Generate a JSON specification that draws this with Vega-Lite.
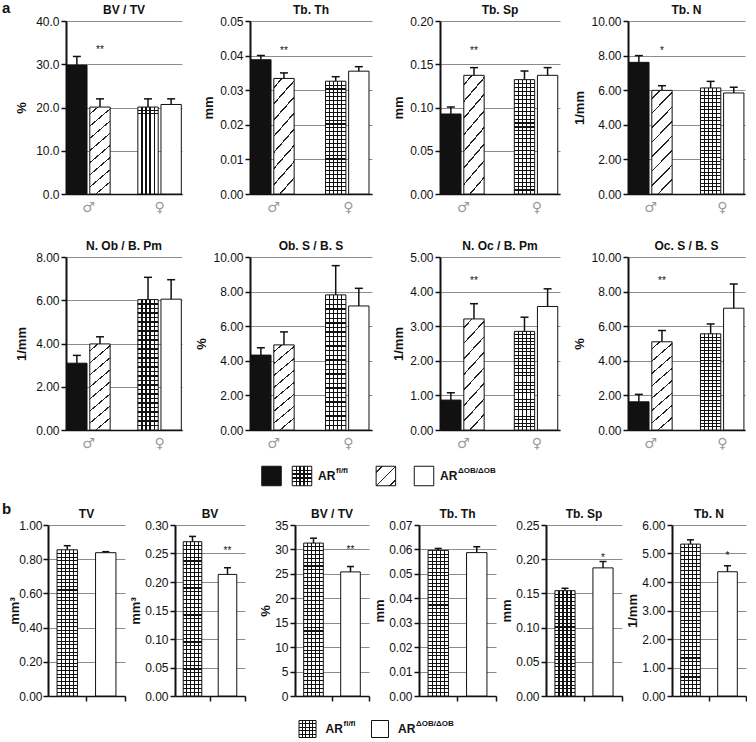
{
"$schema":"https://vega.github.io/schema/vega-lite/v6.json",
"padding":{"left":2,"top":1,"right":0,"bottom":0},
"columns":1,"spacing":14,
"config":{
 "font":"Liberation Sans",
 "view":{"stroke":null},
 "title":{"fontSize":12,"fontWeight":"bold","offset":-2,"color":"#111"},
 "axisX":{"domainColor":"#111","domainWidth":1.5,"ticks":false,"labelAngle":0,"labelColor":"#9a9a9a","labelFont":"DejaVu Sans","labelFontSize":14,"labelPadding":6,"grid":false},
 "axisY":{"grid":true,"gridColor":"#8c8c8c","gridWidth":1,"domainColor":"#111","domainWidth":2,"tickColor":"#111","tickWidth":1.5,"tickSize":5,"labelFontSize":12,"labelColor":"#111","labelPadding":2,"titleFontSize":13,"titleFontWeight":"bold","titleColor":"#111","titlePadding":4},
 "style":{
  "hatch":{"color":{"gradient":"linear","x1":0,"y1":0,"x2":0.2308,"y2":1.1538,"stops":[
   {"offset":0,"color":"white"},
   {"offset":0.06,"color":"white"},{"offset":0.06,"color":"#222"},{"offset":0.0734,"color":"#222"},{"offset":0.0734,"color":"white"},
   {"offset":0.1766,"color":"white"},{"offset":0.1766,"color":"#222"},{"offset":0.19,"color":"#222"},{"offset":0.19,"color":"white"},
   {"offset":0.2933,"color":"white"},{"offset":0.2933,"color":"#222"},{"offset":0.3067,"color":"#222"},{"offset":0.3067,"color":"white"},
   {"offset":0.41,"color":"white"},{"offset":0.41,"color":"#222"},{"offset":0.4234,"color":"#222"},{"offset":0.4234,"color":"white"},
   {"offset":0.5266,"color":"white"},{"offset":0.5266,"color":"#222"},{"offset":0.54,"color":"#222"},{"offset":0.54,"color":"white"},
   {"offset":0.6433,"color":"white"},{"offset":0.6433,"color":"#222"},{"offset":0.6567,"color":"#222"},{"offset":0.6567,"color":"white"},
   {"offset":0.76,"color":"white"},{"offset":0.76,"color":"#222"},{"offset":0.7734,"color":"#222"},{"offset":0.7734,"color":"white"},
   {"offset":0.8766,"color":"white"},{"offset":0.8766,"color":"#222"},{"offset":0.89,"color":"#222"},{"offset":0.89,"color":"white"},
   {"offset":1,"color":"white"}]}},
  "hatchSq":{"color":{"gradient":"linear","x1":0,"y1":0,"x2":1,"y2":1,"stops":[
   {"offset":0,"color":"white"},
   {"offset":0.13,"color":"white"},{"offset":0.13,"color":"#222"},{"offset":0.17,"color":"#222"},{"offset":0.17,"color":"white"},
   {"offset":0.48,"color":"white"},{"offset":0.48,"color":"#222"},{"offset":0.52,"color":"#222"},{"offset":0.52,"color":"white"},
   {"offset":0.83,"color":"white"},{"offset":0.83,"color":"#222"},{"offset":0.87,"color":"#222"},{"offset":0.87,"color":"white"},
   {"offset":1,"color":"white"}]}},
  "gridV":{"color":{"gradient":"linear","x1":0,"y1":0,"x2":1,"y2":0,"stops":[
   {"offset":0,"color":"white"},
   {"offset":0.17,"color":"white"},{"offset":0.17,"color":"#111"},{"offset":0.23,"color":"#111"},{"offset":0.23,"color":"white"},
   {"offset":0.37,"color":"white"},{"offset":0.37,"color":"#111"},{"offset":0.43,"color":"#111"},{"offset":0.43,"color":"white"},
   {"offset":0.57,"color":"white"},{"offset":0.57,"color":"#111"},{"offset":0.63,"color":"#111"},{"offset":0.63,"color":"white"},
   {"offset":0.77,"color":"white"},{"offset":0.77,"color":"#111"},{"offset":0.83,"color":"#111"},{"offset":0.83,"color":"white"},
   {"offset":1,"color":"white"}]}},
  "gridHsq":{"color":{"gradient":"linear","x1":0,"y1":0,"x2":0,"y2":1,"stops":[
   {"offset":0,"color":"transparent"},
   {"offset":0.17,"color":"transparent"},{"offset":0.17,"color":"#111"},{"offset":0.23,"color":"#111"},{"offset":0.23,"color":"transparent"},
   {"offset":0.37,"color":"transparent"},{"offset":0.37,"color":"#111"},{"offset":0.43,"color":"#111"},{"offset":0.43,"color":"transparent"},
   {"offset":0.57,"color":"transparent"},{"offset":0.57,"color":"#111"},{"offset":0.63,"color":"#111"},{"offset":0.63,"color":"transparent"},
   {"offset":0.77,"color":"transparent"},{"offset":0.77,"color":"#111"},{"offset":0.83,"color":"#111"},{"offset":0.83,"color":"transparent"},
   {"offset":1,"color":"transparent"}]}},
  "gridHa":{"color":{"gradient":"linear","x1":0,"y1":0,"x2":0,"y2":1,"stops":[
   {"offset":0,"color":"transparent"},
   {"offset":0.0295,"color":"transparent"},{"offset":0.0295,"color":"#111"},{"offset":0.0395,"color":"#111"},{"offset":0.0395,"color":"transparent"},
   {"offset":0.064,"color":"transparent"},{"offset":0.064,"color":"#111"},{"offset":0.074,"color":"#111"},{"offset":0.074,"color":"transparent"},
   {"offset":0.0984,"color":"transparent"},{"offset":0.0984,"color":"#111"},{"offset":0.1084,"color":"#111"},{"offset":0.1084,"color":"transparent"},
   {"offset":0.1329,"color":"transparent"},{"offset":0.1329,"color":"#111"},{"offset":0.1429,"color":"#111"},{"offset":0.1429,"color":"transparent"},
   {"offset":0.1674,"color":"transparent"},{"offset":0.1674,"color":"#111"},{"offset":0.1774,"color":"#111"},{"offset":0.1774,"color":"transparent"},
   {"offset":0.2019,"color":"transparent"},{"offset":0.2019,"color":"#111"},{"offset":0.2119,"color":"#111"},{"offset":0.2119,"color":"transparent"},
   {"offset":0.2364,"color":"transparent"},{"offset":0.2364,"color":"#111"},{"offset":0.2464,"color":"#111"},{"offset":0.2464,"color":"transparent"},
   {"offset":0.2709,"color":"transparent"},{"offset":0.2709,"color":"#111"},{"offset":0.2809,"color":"#111"},{"offset":0.2809,"color":"transparent"},
   {"offset":0.3053,"color":"transparent"},{"offset":0.3053,"color":"#111"},{"offset":0.3153,"color":"#111"},{"offset":0.3153,"color":"transparent"},
   {"offset":0.3398,"color":"transparent"},{"offset":0.3398,"color":"#111"},{"offset":0.3498,"color":"#111"},{"offset":0.3498,"color":"transparent"},
   {"offset":0.3743,"color":"transparent"},{"offset":0.3743,"color":"#111"},{"offset":0.3843,"color":"#111"},{"offset":0.3843,"color":"transparent"},
   {"offset":0.4088,"color":"transparent"},{"offset":0.4088,"color":"#111"},{"offset":0.4188,"color":"#111"},{"offset":0.4188,"color":"transparent"},
   {"offset":0.4433,"color":"transparent"},{"offset":0.4433,"color":"#111"},{"offset":0.4533,"color":"#111"},{"offset":0.4533,"color":"transparent"},
   {"offset":0.4778,"color":"transparent"},{"offset":0.4778,"color":"#111"},{"offset":0.4878,"color":"#111"},{"offset":0.4878,"color":"transparent"},
   {"offset":0.5122,"color":"transparent"},{"offset":0.5122,"color":"#111"},{"offset":0.5222,"color":"#111"},{"offset":0.5222,"color":"transparent"},
   {"offset":0.5467,"color":"transparent"},{"offset":0.5467,"color":"#111"},{"offset":0.5567,"color":"#111"},{"offset":0.5567,"color":"transparent"},
   {"offset":0.5812,"color":"transparent"},{"offset":0.5812,"color":"#111"},{"offset":0.5912,"color":"#111"},{"offset":0.5912,"color":"transparent"},
   {"offset":0.6157,"color":"transparent"},{"offset":0.6157,"color":"#111"},{"offset":0.6257,"color":"#111"},{"offset":0.6257,"color":"transparent"},
   {"offset":0.6502,"color":"transparent"},{"offset":0.6502,"color":"#111"},{"offset":0.6602,"color":"#111"},{"offset":0.6602,"color":"transparent"},
   {"offset":0.6847,"color":"transparent"},{"offset":0.6847,"color":"#111"},{"offset":0.6947,"color":"#111"},{"offset":0.6947,"color":"transparent"},
   {"offset":0.7191,"color":"transparent"},{"offset":0.7191,"color":"#111"},{"offset":0.7291,"color":"#111"},{"offset":0.7291,"color":"transparent"},
   {"offset":0.7536,"color":"transparent"},{"offset":0.7536,"color":"#111"},{"offset":0.7636,"color":"#111"},{"offset":0.7636,"color":"transparent"},
   {"offset":0.7881,"color":"transparent"},{"offset":0.7881,"color":"#111"},{"offset":0.7981,"color":"#111"},{"offset":0.7981,"color":"transparent"},
   {"offset":0.8226,"color":"transparent"},{"offset":0.8226,"color":"#111"},{"offset":0.8326,"color":"#111"},{"offset":0.8326,"color":"transparent"},
   {"offset":0.8571,"color":"transparent"},{"offset":0.8571,"color":"#111"},{"offset":0.8671,"color":"#111"},{"offset":0.8671,"color":"transparent"},
   {"offset":0.8916,"color":"transparent"},{"offset":0.8916,"color":"#111"},{"offset":0.9016,"color":"#111"},{"offset":0.9016,"color":"transparent"},
   {"offset":0.926,"color":"transparent"},{"offset":0.926,"color":"#111"},{"offset":0.936,"color":"#111"},{"offset":0.936,"color":"transparent"},
   {"offset":0.9605,"color":"transparent"},{"offset":0.9605,"color":"#111"},{"offset":0.9705,"color":"#111"},{"offset":0.9705,"color":"transparent"},
   {"offset":1,"color":"transparent"}]}},
  "gridHb":{"color":{"gradient":"linear","x1":0,"y1":0,"x2":0,"y2":1,"stops":[
   {"offset":0,"color":"transparent"},
   {"offset":0.0215,"color":"transparent"},{"offset":0.0215,"color":"#111"},{"offset":0.0285,"color":"#111"},{"offset":0.0285,"color":"transparent"},
   {"offset":0.0465,"color":"transparent"},{"offset":0.0465,"color":"#111"},{"offset":0.0535,"color":"#111"},{"offset":0.0535,"color":"transparent"},
   {"offset":0.0715,"color":"transparent"},{"offset":0.0715,"color":"#111"},{"offset":0.0785,"color":"#111"},{"offset":0.0785,"color":"transparent"},
   {"offset":0.0965,"color":"transparent"},{"offset":0.0965,"color":"#111"},{"offset":0.1035,"color":"#111"},{"offset":0.1035,"color":"transparent"},
   {"offset":0.1215,"color":"transparent"},{"offset":0.1215,"color":"#111"},{"offset":0.1285,"color":"#111"},{"offset":0.1285,"color":"transparent"},
   {"offset":0.1465,"color":"transparent"},{"offset":0.1465,"color":"#111"},{"offset":0.1535,"color":"#111"},{"offset":0.1535,"color":"transparent"},
   {"offset":0.1715,"color":"transparent"},{"offset":0.1715,"color":"#111"},{"offset":0.1785,"color":"#111"},{"offset":0.1785,"color":"transparent"},
   {"offset":0.1965,"color":"transparent"},{"offset":0.1965,"color":"#111"},{"offset":0.2035,"color":"#111"},{"offset":0.2035,"color":"transparent"},
   {"offset":0.2215,"color":"transparent"},{"offset":0.2215,"color":"#111"},{"offset":0.2285,"color":"#111"},{"offset":0.2285,"color":"transparent"},
   {"offset":0.2465,"color":"transparent"},{"offset":0.2465,"color":"#111"},{"offset":0.2535,"color":"#111"},{"offset":0.2535,"color":"transparent"},
   {"offset":0.2715,"color":"transparent"},{"offset":0.2715,"color":"#111"},{"offset":0.2785,"color":"#111"},{"offset":0.2785,"color":"transparent"},
   {"offset":0.2965,"color":"transparent"},{"offset":0.2965,"color":"#111"},{"offset":0.3035,"color":"#111"},{"offset":0.3035,"color":"transparent"},
   {"offset":0.3215,"color":"transparent"},{"offset":0.3215,"color":"#111"},{"offset":0.3285,"color":"#111"},{"offset":0.3285,"color":"transparent"},
   {"offset":0.3465,"color":"transparent"},{"offset":0.3465,"color":"#111"},{"offset":0.3535,"color":"#111"},{"offset":0.3535,"color":"transparent"},
   {"offset":0.3715,"color":"transparent"},{"offset":0.3715,"color":"#111"},{"offset":0.3785,"color":"#111"},{"offset":0.3785,"color":"transparent"},
   {"offset":0.3965,"color":"transparent"},{"offset":0.3965,"color":"#111"},{"offset":0.4035,"color":"#111"},{"offset":0.4035,"color":"transparent"},
   {"offset":0.4215,"color":"transparent"},{"offset":0.4215,"color":"#111"},{"offset":0.4285,"color":"#111"},{"offset":0.4285,"color":"transparent"},
   {"offset":0.4465,"color":"transparent"},{"offset":0.4465,"color":"#111"},{"offset":0.4535,"color":"#111"},{"offset":0.4535,"color":"transparent"},
   {"offset":0.4715,"color":"transparent"},{"offset":0.4715,"color":"#111"},{"offset":0.4785,"color":"#111"},{"offset":0.4785,"color":"transparent"},
   {"offset":0.4965,"color":"transparent"},{"offset":0.4965,"color":"#111"},{"offset":0.5035,"color":"#111"},{"offset":0.5035,"color":"transparent"},
   {"offset":0.5215,"color":"transparent"},{"offset":0.5215,"color":"#111"},{"offset":0.5285,"color":"#111"},{"offset":0.5285,"color":"transparent"},
   {"offset":0.5465,"color":"transparent"},{"offset":0.5465,"color":"#111"},{"offset":0.5535,"color":"#111"},{"offset":0.5535,"color":"transparent"},
   {"offset":0.5715,"color":"transparent"},{"offset":0.5715,"color":"#111"},{"offset":0.5785,"color":"#111"},{"offset":0.5785,"color":"transparent"},
   {"offset":0.5965,"color":"transparent"},{"offset":0.5965,"color":"#111"},{"offset":0.6035,"color":"#111"},{"offset":0.6035,"color":"transparent"},
   {"offset":0.6215,"color":"transparent"},{"offset":0.6215,"color":"#111"},{"offset":0.6285,"color":"#111"},{"offset":0.6285,"color":"transparent"},
   {"offset":0.6465,"color":"transparent"},{"offset":0.6465,"color":"#111"},{"offset":0.6535,"color":"#111"},{"offset":0.6535,"color":"transparent"},
   {"offset":0.6715,"color":"transparent"},{"offset":0.6715,"color":"#111"},{"offset":0.6785,"color":"#111"},{"offset":0.6785,"color":"transparent"},
   {"offset":0.6965,"color":"transparent"},{"offset":0.6965,"color":"#111"},{"offset":0.7035,"color":"#111"},{"offset":0.7035,"color":"transparent"},
   {"offset":0.7215,"color":"transparent"},{"offset":0.7215,"color":"#111"},{"offset":0.7285,"color":"#111"},{"offset":0.7285,"color":"transparent"},
   {"offset":0.7465,"color":"transparent"},{"offset":0.7465,"color":"#111"},{"offset":0.7535,"color":"#111"},{"offset":0.7535,"color":"transparent"},
   {"offset":0.7715,"color":"transparent"},{"offset":0.7715,"color":"#111"},{"offset":0.7785,"color":"#111"},{"offset":0.7785,"color":"transparent"},
   {"offset":0.7965,"color":"transparent"},{"offset":0.7965,"color":"#111"},{"offset":0.8035,"color":"#111"},{"offset":0.8035,"color":"transparent"},
   {"offset":0.8215,"color":"transparent"},{"offset":0.8215,"color":"#111"},{"offset":0.8285,"color":"#111"},{"offset":0.8285,"color":"transparent"},
   {"offset":0.8465,"color":"transparent"},{"offset":0.8465,"color":"#111"},{"offset":0.8535,"color":"#111"},{"offset":0.8535,"color":"transparent"},
   {"offset":0.8715,"color":"transparent"},{"offset":0.8715,"color":"#111"},{"offset":0.8785,"color":"#111"},{"offset":0.8785,"color":"transparent"},
   {"offset":0.8965,"color":"transparent"},{"offset":0.8965,"color":"#111"},{"offset":0.9035,"color":"#111"},{"offset":0.9035,"color":"transparent"},
   {"offset":0.9215,"color":"transparent"},{"offset":0.9215,"color":"#111"},{"offset":0.9285,"color":"#111"},{"offset":0.9285,"color":"transparent"},
   {"offset":0.9465,"color":"transparent"},{"offset":0.9465,"color":"#111"},{"offset":0.9535,"color":"#111"},{"offset":0.9535,"color":"transparent"},
   {"offset":0.9715,"color":"transparent"},{"offset":0.9715,"color":"#111"},{"offset":0.9785,"color":"#111"},{"offset":0.9785,"color":"transparent"},
   {"offset":1,"color":"transparent"}]}}
 }
},
"datasets":{
 "a":[
  {"p":"BV/TV","sex":"♂","geno":"fl","mean":29.8,"upper":31.8},
  {"p":"BV/TV","sex":"♂","geno":"ob","mean":20.1,"upper":22.0},
  {"p":"BV/TV","sex":"♀","geno":"fl","mean":20.1,"upper":22.0},
  {"p":"BV/TV","sex":"♀","geno":"ob","mean":20.7,"upper":22.0},
  {"p":"Tb.Th","sex":"♂","geno":"fl","mean":0.0388,"upper":0.0400},
  {"p":"Tb.Th","sex":"♂","geno":"ob","mean":0.0334,"upper":0.0350},
  {"p":"Tb.Th","sex":"♀","geno":"fl","mean":0.0326,"upper":0.0339},
  {"p":"Tb.Th","sex":"♀","geno":"ob","mean":0.0355,"upper":0.0368},
  {"p":"Tb.Sp","sex":"♂","geno":"fl","mean":0.0925,"upper":0.1006},
  {"p":"Tb.Sp","sex":"♂","geno":"ob","mean":0.1372,"upper":0.1461},
  {"p":"Tb.Sp","sex":"♀","geno":"fl","mean":0.1322,"upper":0.1422},
  {"p":"Tb.Sp","sex":"♀","geno":"ob","mean":0.1372,"upper":0.1461},
  {"p":"Tb.N","sex":"♂","geno":"fl","mean":7.61,"upper":8.0},
  {"p":"Tb.N","sex":"♂","geno":"ob","mean":5.99,"upper":6.26},
  {"p":"Tb.N","sex":"♀","geno":"fl","mean":6.13,"upper":6.51},
  {"p":"Tb.N","sex":"♀","geno":"ob","mean":5.84,"upper":6.17},
  {"p":"N.Ob","sex":"♂","geno":"fl","mean":3.09,"upper":3.45},
  {"p":"N.Ob","sex":"♂","geno":"ob","mean":3.98,"upper":4.31},
  {"p":"N.Ob","sex":"♀","geno":"fl","mean":6.03,"upper":7.06},
  {"p":"N.Ob","sex":"♀","geno":"ob","mean":6.05,"upper":6.95},
  {"p":"Ob.S","sex":"♂","geno":"fl","mean":4.33,"upper":4.75},
  {"p":"Ob.S","sex":"♂","geno":"ob","mean":4.92,"upper":5.67},
  {"p":"Ob.S","sex":"♀","geno":"fl","mean":7.81,"upper":9.5},
  {"p":"Ob.S","sex":"♀","geno":"ob","mean":7.17,"upper":8.19},
  {"p":"N.Oc","sex":"♂","geno":"fl","mean":0.865,"upper":1.077},
  {"p":"N.Oc","sex":"♂","geno":"ob","mean":3.21,"upper":3.65},
  {"p":"N.Oc","sex":"♀","geno":"fl","mean":2.85,"upper":3.26},
  {"p":"N.Oc","sex":"♀","geno":"ob","mean":3.57,"upper":4.08},
  {"p":"Oc.S","sex":"♂","geno":"fl","mean":1.63,"upper":2.06},
  {"p":"Oc.S","sex":"♂","geno":"ob","mean":5.10,"upper":5.75},
  {"p":"Oc.S","sex":"♀","geno":"fl","mean":5.56,"upper":6.13},
  {"p":"Oc.S","sex":"♀","geno":"ob","mean":7.04,"upper":8.44}
 ],
 "sa":[
  {"p":"BV/TV","sex":"♂","geno":"ob","sig":"**","y":32.5},
  {"p":"Tb.Th","sex":"♂","geno":"ob","sig":"**","y":0.0406},
  {"p":"Tb.Sp","sex":"♂","geno":"ob","sig":"**","y":0.1624},
  {"p":"Tb.N","sex":"♂","geno":"ob","sig":"*","y":8.12},
  {"p":"N.Oc","sex":"♂","geno":"ob","sig":"**","y":4.21},
  {"p":"Oc.S","sex":"♂","geno":"ob","sig":"**","y":8.42}
 ],
 "b":[
  {"p":"TV","geno":"fl","mean":0.855,"upper":0.879},
  {"p":"TV","geno":"ob","mean":0.838,"upper":0.844},
  {"p":"BV","geno":"fl","mean":0.2707,"upper":0.280},
  {"p":"BV","geno":"ob","mean":0.2133,"upper":0.225},
  {"p":"BV/TV","geno":"fl","mean":31.3,"upper":32.3},
  {"p":"BV/TV","geno":"ob","mean":25.4,"upper":26.5},
  {"p":"Tb.Th","geno":"fl","mean":0.0596,"upper":0.0604},
  {"p":"Tb.Th","geno":"ob","mean":0.0587,"upper":0.0611},
  {"p":"Tb.Sp","geno":"fl","mean":0.154,"upper":0.1575},
  {"p":"Tb.Sp","geno":"ob","mean":0.1873,"upper":0.1966},
  {"p":"Tb.N","geno":"fl","mean":5.33,"upper":5.48},
  {"p":"Tb.N","geno":"ob","mean":4.36,"upper":4.57}
 ],
 "sb":[
  {"p":"BV","geno":"ob","sig":"**","y":0.25},
  {"p":"BV/TV","geno":"ob","sig":"**","y":29.2},
  {"p":"Tb.Sp","geno":"ob","sig":"*","y":0.198},
  {"p":"Tb.N","geno":"ob","sig":"*","y":4.82}
 ]
},
"concat":[
 {
  "title":{"text":"a","anchor":"start","frame":"group","fontSize":15,"fontWeight":"bold","baseline":"top","offset":-12,"dx":-46,"color":"#111"},
  "bounds":"flush","spacing":17,
  "hconcat":[
   {"width":1,"height":1,"data":{"values":[{"z":0}]},"mark":{"type":"point","opacity":0}},
   {
  "columns":4,"bounds":"flush","spacing":{"row":63,"column":68},
  "concat":[
   {"width":116,"height":173,"title":"BV / TV","data":{"name":"a"},"transform":[{"filter":"datum.p=='BV/TV'"}],
    "encoding":{"x":{"field":"sex","type":"nominal","title":null,"scale":{"domain":["♂","♀"],"paddingInner":0.37,"paddingOuter":0}},
     "xOffset":{"field":"geno","type":"nominal","scale":{"domain":["fl","ob"],"paddingInner":0.12,"paddingOuter":0.03}},
     "y":{"field":"mean","type":"quantitative","scale":{"domain":[0,40],"nice":false},"axis":{"title":"%","values":[0,10,20,30,40],"format":".1f","titlePadding":7}}},
    "layer":[
     {"transform":[{"filter":"datum.sex=='♂'&&datum.geno=='fl'"}],"mark":{"type":"bar","fill":"#111","stroke":"#111"}},
     {"transform":[{"filter":"datum.sex=='♂'&&datum.geno=='ob'"}],"mark":{"type":"bar","style":"hatch","stroke":"#111"}},
     {"transform":[{"filter":"datum.sex=='♀'&&datum.geno=='fl'"}],"mark":{"type":"bar","style":"gridV"}},
     {"transform":[{"filter":"datum.sex=='♀'&&datum.geno=='fl'"}],"mark":{"type":"bar","style":"gridHa","stroke":"#111"}},
     {"transform":[{"filter":"datum.sex=='♀'&&datum.geno=='ob'"}],"mark":{"type":"bar","fill":"white","stroke":"#111"}},
     {"mark":{"type":"rule","color":"#111","strokeWidth":1.5},"encoding":{"y2":{"field":"upper"}}},
     {"mark":{"type":"tick","color":"#111","thickness":1.5,"size":8,"opacity":1},"encoding":{"y":{"field":"upper","type":"quantitative"}}},
     {"data":{"name":"sa"},"transform":[{"filter":"datum.p=='BV/TV'"}],"mark":{"type":"text","fontSize":10,"baseline":"alphabetic","color":"#111"},"encoding":{"y":{"field":"y","type":"quantitative"},"text":{"field":"sig"}}}
    ]},
   {"width":122,"height":173,"title":"Tb. Th","data":{"name":"a"},"transform":[{"filter":"datum.p=='Tb.Th'"}],
    "encoding":{"x":{"field":"sex","type":"nominal","title":null,"scale":{"domain":["♂","♀"],"paddingInner":0.37,"paddingOuter":0}},
     "xOffset":{"field":"geno","type":"nominal","scale":{"domain":["fl","ob"],"paddingInner":0.12,"paddingOuter":0.03}},
     "y":{"field":"mean","type":"quantitative","scale":{"domain":[0,0.05],"nice":false},"axis":{"title":"mm","values":[0,0.01,0.02,0.03,0.04,0.05],"format":".2f"}}},
    "layer":[
     {"transform":[{"filter":"datum.sex=='♂'&&datum.geno=='fl'"}],"mark":{"type":"bar","fill":"#111","stroke":"#111"}},
     {"transform":[{"filter":"datum.sex=='♂'&&datum.geno=='ob'"}],"mark":{"type":"bar","style":"hatch","stroke":"#111"}},
     {"transform":[{"filter":"datum.sex=='♀'&&datum.geno=='fl'"}],"mark":{"type":"bar","style":"gridV"}},
     {"transform":[{"filter":"datum.sex=='♀'&&datum.geno=='fl'"}],"mark":{"type":"bar","style":"gridHa","stroke":"#111"}},
     {"transform":[{"filter":"datum.sex=='♀'&&datum.geno=='ob'"}],"mark":{"type":"bar","fill":"white","stroke":"#111"}},
     {"mark":{"type":"rule","color":"#111","strokeWidth":1.5},"encoding":{"y2":{"field":"upper"}}},
     {"mark":{"type":"tick","color":"#111","thickness":1.5,"size":8,"opacity":1},"encoding":{"y":{"field":"upper","type":"quantitative"}}},
     {"data":{"name":"sa"},"transform":[{"filter":"datum.p=='Tb.Th'"}],"mark":{"type":"text","fontSize":10,"baseline":"alphabetic","color":"#111"},"encoding":{"y":{"field":"y","type":"quantitative"},"text":{"field":"sig"}}}
    ]},
   {"width":120,"height":173,"title":"Tb. Sp","data":{"name":"a"},"transform":[{"filter":"datum.p=='Tb.Sp'"}],
    "encoding":{"x":{"field":"sex","type":"nominal","title":null,"scale":{"domain":["♂","♀"],"paddingInner":0.37,"paddingOuter":0}},
     "xOffset":{"field":"geno","type":"nominal","scale":{"domain":["fl","ob"],"paddingInner":0.12,"paddingOuter":0.03}},
     "y":{"field":"mean","type":"quantitative","scale":{"domain":[0,0.2],"nice":false},"axis":{"title":"mm","values":[0,0.05,0.1,0.15,0.2],"format":".2f"}}},
    "layer":[
     {"transform":[{"filter":"datum.sex=='♂'&&datum.geno=='fl'"}],"mark":{"type":"bar","fill":"#111","stroke":"#111"}},
     {"transform":[{"filter":"datum.sex=='♂'&&datum.geno=='ob'"}],"mark":{"type":"bar","style":"hatch","stroke":"#111"}},
     {"transform":[{"filter":"datum.sex=='♀'&&datum.geno=='fl'"}],"mark":{"type":"bar","style":"gridV"}},
     {"transform":[{"filter":"datum.sex=='♀'&&datum.geno=='fl'"}],"mark":{"type":"bar","style":"gridHa","stroke":"#111"}},
     {"transform":[{"filter":"datum.sex=='♀'&&datum.geno=='ob'"}],"mark":{"type":"bar","fill":"white","stroke":"#111"}},
     {"mark":{"type":"rule","color":"#111","strokeWidth":1.5},"encoding":{"y2":{"field":"upper"}}},
     {"mark":{"type":"tick","color":"#111","thickness":1.5,"size":8,"opacity":1},"encoding":{"y":{"field":"upper","type":"quantitative"}}},
     {"data":{"name":"sa"},"transform":[{"filter":"datum.p=='Tb.Sp'"}],"mark":{"type":"text","fontSize":10,"baseline":"alphabetic","color":"#111"},"encoding":{"y":{"field":"y","type":"quantitative"},"text":{"field":"sig"}}}
    ]},
   {"width":117,"height":173,"title":"Tb. N","data":{"name":"a"},"transform":[{"filter":"datum.p=='Tb.N'"}],
    "encoding":{"x":{"field":"sex","type":"nominal","title":null,"scale":{"domain":["♂","♀"],"paddingInner":0.37,"paddingOuter":0}},
     "xOffset":{"field":"geno","type":"nominal","scale":{"domain":["fl","ob"],"paddingInner":0.12,"paddingOuter":0.03}},
     "y":{"field":"mean","type":"quantitative","scale":{"domain":[0,10],"nice":false},"axis":{"title":"1/mm","values":[0,2,4,6,8,10],"format":".2f"}}},
    "layer":[
     {"transform":[{"filter":"datum.sex=='♂'&&datum.geno=='fl'"}],"mark":{"type":"bar","fill":"#111","stroke":"#111"}},
     {"transform":[{"filter":"datum.sex=='♂'&&datum.geno=='ob'"}],"mark":{"type":"bar","style":"hatch","stroke":"#111"}},
     {"transform":[{"filter":"datum.sex=='♀'&&datum.geno=='fl'"}],"mark":{"type":"bar","style":"gridV"}},
     {"transform":[{"filter":"datum.sex=='♀'&&datum.geno=='fl'"}],"mark":{"type":"bar","style":"gridHa","stroke":"#111"}},
     {"transform":[{"filter":"datum.sex=='♀'&&datum.geno=='ob'"}],"mark":{"type":"bar","fill":"white","stroke":"#111"}},
     {"mark":{"type":"rule","color":"#111","strokeWidth":1.5},"encoding":{"y2":{"field":"upper"}}},
     {"mark":{"type":"tick","color":"#111","thickness":1.5,"size":8,"opacity":1},"encoding":{"y":{"field":"upper","type":"quantitative"}}},
     {"data":{"name":"sa"},"transform":[{"filter":"datum.p=='Tb.N'"}],"mark":{"type":"text","fontSize":10,"baseline":"alphabetic","color":"#111"},"encoding":{"y":{"field":"y","type":"quantitative"},"text":{"field":"sig"}}}
    ]},
   {"width":116,"height":173,"title":"N. Ob / B. Pm","data":{"name":"a"},"transform":[{"filter":"datum.p=='N.Ob'"}],
    "encoding":{"x":{"field":"sex","type":"nominal","title":null,"scale":{"domain":["♂","♀"],"paddingInner":0.37,"paddingOuter":0}},
     "xOffset":{"field":"geno","type":"nominal","scale":{"domain":["fl","ob"],"paddingInner":0.12,"paddingOuter":0.03}},
     "y":{"field":"mean","type":"quantitative","scale":{"domain":[0,8],"nice":false},"axis":{"title":"1/mm","values":[0,2,4,6,8],"format":".2f","titlePadding":7}}},
    "layer":[
     {"transform":[{"filter":"datum.sex=='♂'&&datum.geno=='fl'"}],"mark":{"type":"bar","fill":"#111","stroke":"#111"}},
     {"transform":[{"filter":"datum.sex=='♂'&&datum.geno=='ob'"}],"mark":{"type":"bar","style":"hatch","stroke":"#111"}},
     {"transform":[{"filter":"datum.sex=='♀'&&datum.geno=='fl'"}],"mark":{"type":"bar","style":"gridV"}},
     {"transform":[{"filter":"datum.sex=='♀'&&datum.geno=='fl'"}],"mark":{"type":"bar","style":"gridHa","stroke":"#111"}},
     {"transform":[{"filter":"datum.sex=='♀'&&datum.geno=='ob'"}],"mark":{"type":"bar","fill":"white","stroke":"#111"}},
     {"mark":{"type":"rule","color":"#111","strokeWidth":1.5},"encoding":{"y2":{"field":"upper"}}},
     {"mark":{"type":"tick","color":"#111","thickness":1.5,"size":8,"opacity":1},"encoding":{"y":{"field":"upper","type":"quantitative"}}}
    ]},
   {"width":122,"height":173,"title":"Ob. S / B. S","data":{"name":"a"},"transform":[{"filter":"datum.p=='Ob.S'"}],
    "encoding":{"x":{"field":"sex","type":"nominal","title":null,"scale":{"domain":["♂","♀"],"paddingInner":0.37,"paddingOuter":0}},
     "xOffset":{"field":"geno","type":"nominal","scale":{"domain":["fl","ob"],"paddingInner":0.12,"paddingOuter":0.03}},
     "y":{"field":"mean","type":"quantitative","scale":{"domain":[0,10],"nice":false},"axis":{"title":"%","values":[0,2,4,6,8,10],"format":".2f"}}},
    "layer":[
     {"transform":[{"filter":"datum.sex=='♂'&&datum.geno=='fl'"}],"mark":{"type":"bar","fill":"#111","stroke":"#111"}},
     {"transform":[{"filter":"datum.sex=='♂'&&datum.geno=='ob'"}],"mark":{"type":"bar","style":"hatch","stroke":"#111"}},
     {"transform":[{"filter":"datum.sex=='♀'&&datum.geno=='fl'"}],"mark":{"type":"bar","style":"gridV"}},
     {"transform":[{"filter":"datum.sex=='♀'&&datum.geno=='fl'"}],"mark":{"type":"bar","style":"gridHa","stroke":"#111"}},
     {"transform":[{"filter":"datum.sex=='♀'&&datum.geno=='ob'"}],"mark":{"type":"bar","fill":"white","stroke":"#111"}},
     {"mark":{"type":"rule","color":"#111","strokeWidth":1.5},"encoding":{"y2":{"field":"upper"}}},
     {"mark":{"type":"tick","color":"#111","thickness":1.5,"size":8,"opacity":1},"encoding":{"y":{"field":"upper","type":"quantitative"}}}
    ]},
   {"width":120,"height":173,"title":"N. Oc / B. Pm","data":{"name":"a"},"transform":[{"filter":"datum.p=='N.Oc'"}],
    "encoding":{"x":{"field":"sex","type":"nominal","title":null,"scale":{"domain":["♂","♀"],"paddingInner":0.37,"paddingOuter":0}},
     "xOffset":{"field":"geno","type":"nominal","scale":{"domain":["fl","ob"],"paddingInner":0.12,"paddingOuter":0.03}},
     "y":{"field":"mean","type":"quantitative","scale":{"domain":[0,5],"nice":false},"axis":{"title":"1/mm","values":[0,1,2,3,4,5],"format":".2f"}}},
    "layer":[
     {"transform":[{"filter":"datum.sex=='♂'&&datum.geno=='fl'"}],"mark":{"type":"bar","fill":"#111","stroke":"#111"}},
     {"transform":[{"filter":"datum.sex=='♂'&&datum.geno=='ob'"}],"mark":{"type":"bar","style":"hatch","stroke":"#111"}},
     {"transform":[{"filter":"datum.sex=='♀'&&datum.geno=='fl'"}],"mark":{"type":"bar","style":"gridV"}},
     {"transform":[{"filter":"datum.sex=='♀'&&datum.geno=='fl'"}],"mark":{"type":"bar","style":"gridHa","stroke":"#111"}},
     {"transform":[{"filter":"datum.sex=='♀'&&datum.geno=='ob'"}],"mark":{"type":"bar","fill":"white","stroke":"#111"}},
     {"mark":{"type":"rule","color":"#111","strokeWidth":1.5},"encoding":{"y2":{"field":"upper"}}},
     {"mark":{"type":"tick","color":"#111","thickness":1.5,"size":8,"opacity":1},"encoding":{"y":{"field":"upper","type":"quantitative"}}},
     {"data":{"name":"sa"},"transform":[{"filter":"datum.p=='N.Oc'"}],"mark":{"type":"text","fontSize":10,"baseline":"alphabetic","color":"#111"},"encoding":{"y":{"field":"y","type":"quantitative"},"text":{"field":"sig"}}}
    ]},
   {"width":117,"height":173,"title":"Oc. S / B. S","data":{"name":"a"},"transform":[{"filter":"datum.p=='Oc.S'"}],
    "encoding":{"x":{"field":"sex","type":"nominal","title":null,"scale":{"domain":["♂","♀"],"paddingInner":0.37,"paddingOuter":0}},
     "xOffset":{"field":"geno","type":"nominal","scale":{"domain":["fl","ob"],"paddingInner":0.12,"paddingOuter":0.03}},
     "y":{"field":"mean","type":"quantitative","scale":{"domain":[0,10],"nice":false},"axis":{"title":"%","values":[0,2,4,6,8,10],"format":".2f"}}},
    "layer":[
     {"transform":[{"filter":"datum.sex=='♂'&&datum.geno=='fl'"}],"mark":{"type":"bar","fill":"#111","stroke":"#111"}},
     {"transform":[{"filter":"datum.sex=='♂'&&datum.geno=='ob'"}],"mark":{"type":"bar","style":"hatch","stroke":"#111"}},
     {"transform":[{"filter":"datum.sex=='♀'&&datum.geno=='fl'"}],"mark":{"type":"bar","style":"gridV"}},
     {"transform":[{"filter":"datum.sex=='♀'&&datum.geno=='fl'"}],"mark":{"type":"bar","style":"gridHa","stroke":"#111"}},
     {"transform":[{"filter":"datum.sex=='♀'&&datum.geno=='ob'"}],"mark":{"type":"bar","fill":"white","stroke":"#111"}},
     {"mark":{"type":"rule","color":"#111","strokeWidth":1.5},"encoding":{"y2":{"field":"upper"}}},
     {"mark":{"type":"tick","color":"#111","thickness":1.5,"size":8,"opacity":1},"encoding":{"y":{"field":"upper","type":"quantitative"}}},
     {"data":{"name":"sa"},"transform":[{"filter":"datum.p=='Oc.S'"}],"mark":{"type":"text","fontSize":10,"baseline":"alphabetic","color":"#111"},"encoding":{"y":{"field":"y","type":"quantitative"},"text":{"field":"sig"}}}
    ]}
  ]
   }
  ]
 },
 {
  "width":690,"height":20,
  "data":{"values":[{"it":"k"},{"it":"g","lab":"AR","sup":"fl/fl"},{"it":"h"},{"it":"w","lab":"AR","sup":"ΔOB/ΔOB"}]},
  "encoding":{"x":{"field":"it","type":"nominal","scale":{"type":"point","domain":["k","s1","s2","s3","g","s4","s5","s6","s7","s8","s9","s10","s11","s12","s13","h","s14","s15","s16","s17","w"],"range":[223.5,376],"padding":0},"axis":null}},
  "layer":[
   {"transform":[{"filter":"datum.it=='k'"}],"mark":{"type":"square","size":380,"fill":"#111","stroke":"#111","strokeWidth":1,"opacity":1}},
   {"transform":[{"filter":"datum.it=='h'"}],"mark":{"type":"square","size":380,"style":"hatchSq","stroke":"#111","strokeWidth":1,"opacity":1}},
   {"transform":[{"filter":"datum.it=='g'"}],"mark":{"type":"square","size":380,"style":"gridV","opacity":1}},
   {"transform":[{"filter":"datum.it=='g'"}],"mark":{"type":"square","size":380,"style":"gridHsq","stroke":"#111","strokeWidth":1,"opacity":1}},
   {"transform":[{"filter":"datum.it=='w'"}],"mark":{"type":"square","size":380,"fill":"white","stroke":"#111","strokeWidth":1,"opacity":1}},
   {"transform":[{"filter":"datum.lab"}],"mark":{"type":"text","align":"left","dx":16,"fontSize":12,"fontWeight":"bold","color":"#111"},"encoding":{"text":{"field":"lab"}}},
   {"transform":[{"filter":"datum.sup"}],"mark":{"type":"text","align":"left","dx":34,"dy":-5,"fontSize":8,"fontWeight":"bold","color":"#111"},"encoding":{"text":{"field":"sup"}}}
  ]
 },
 {
  "title":{"text":"b","anchor":"start","frame":"group","fontSize":15,"fontWeight":"bold","baseline":"top","offset":-9,"dx":-46,"color":"#111"},
  "bounds":"flush","spacing":50,
  "hconcat":[
   {"width":77,"height":171,"title":"TV","data":{"name":"b"},"transform":[{"filter":"datum.p=='TV'"}],
    "encoding":{"x":{"field":"geno","type":"nominal","title":null,"scale":{"domain":["fl","ob"],"paddingInner":0,"paddingOuter":0},"axis":{"labels":false,"ticks":true,"tickColor":"#111","tickSize":5,"tickWidth":1.5,"bandPosition":1}},
     "y":{"field":"mean","type":"quantitative","scale":{"domain":[0,1],"nice":false},"axis":{"title":"mm³","values":[0,0.2,0.4,0.6,0.8,1],"format":".2f","titlePadding":-3,"labelPadding":1}}},
    "layer":[
     {"transform":[{"filter":"datum.geno=='fl'"}],"mark":{"type":"bar","style":"gridV","width":{"band":0.53}}},
     {"transform":[{"filter":"datum.geno=='fl'"}],"mark":{"type":"bar","style":"gridHb","stroke":"#111","width":{"band":0.53}}},
     {"transform":[{"filter":"datum.geno=='ob'"}],"mark":{"type":"bar","fill":"white","stroke":"#111","width":{"band":0.53}}},
     {"mark":{"type":"rule","color":"#111","strokeWidth":1.5},"encoding":{"y2":{"field":"upper"}}},
     {"mark":{"type":"tick","color":"#111","thickness":1.5,"size":7,"opacity":1},"encoding":{"y":{"field":"upper","type":"quantitative"}}}
    ]},
   {"width":70,"height":171,"title":"BV","data":{"name":"b"},"transform":[{"filter":"datum.p=='BV'"}],
    "encoding":{"x":{"field":"geno","type":"nominal","title":null,"scale":{"domain":["fl","ob"],"paddingInner":0,"paddingOuter":0},"axis":{"labels":false,"ticks":true,"tickColor":"#111","tickSize":5,"tickWidth":1.5,"bandPosition":1}},
     "y":{"field":"mean","type":"quantitative","scale":{"domain":[0,0.3],"nice":false},"axis":{"title":"mm³","values":[0,0.05,0.1,0.15,0.2,0.25,0.3],"format":".2f","titlePadding":2}}},
    "layer":[
     {"transform":[{"filter":"datum.geno=='fl'"}],"mark":{"type":"bar","style":"gridV","width":{"band":0.53}}},
     {"transform":[{"filter":"datum.geno=='fl'"}],"mark":{"type":"bar","style":"gridHb","stroke":"#111","width":{"band":0.53}}},
     {"transform":[{"filter":"datum.geno=='ob'"}],"mark":{"type":"bar","fill":"white","stroke":"#111","width":{"band":0.53}}},
     {"mark":{"type":"rule","color":"#111","strokeWidth":1.5},"encoding":{"y2":{"field":"upper"}}},
     {"mark":{"type":"tick","color":"#111","thickness":1.5,"size":7,"opacity":1},"encoding":{"y":{"field":"upper","type":"quantitative"}}},
     {"data":{"name":"sb"},"transform":[{"filter":"datum.p=='BV'"}],"mark":{"type":"text","fontSize":10,"baseline":"alphabetic","color":"#111"},"encoding":{"y":{"field":"y","type":"quantitative"},"text":{"field":"sig"}}}
    ]},
   {"width":74,"height":171,"title":"BV / TV","data":{"name":"b"},"transform":[{"filter":"datum.p=='BV/TV'"}],
    "encoding":{"x":{"field":"geno","type":"nominal","title":null,"scale":{"domain":["fl","ob"],"paddingInner":0,"paddingOuter":0},"axis":{"labels":false,"ticks":true,"tickColor":"#111","tickSize":5,"tickWidth":1.5,"bandPosition":1}},
     "y":{"field":"mean","type":"quantitative","scale":{"domain":[0,35],"nice":false},"axis":{"title":"%","values":[0,5,10,15,20,25,30,35],"format":"d","titlePadding":2}}},
    "layer":[
     {"transform":[{"filter":"datum.geno=='fl'"}],"mark":{"type":"bar","style":"gridV","width":{"band":0.53}}},
     {"transform":[{"filter":"datum.geno=='fl'"}],"mark":{"type":"bar","style":"gridHb","stroke":"#111","width":{"band":0.53}}},
     {"transform":[{"filter":"datum.geno=='ob'"}],"mark":{"type":"bar","fill":"white","stroke":"#111","width":{"band":0.53}}},
     {"mark":{"type":"rule","color":"#111","strokeWidth":1.5},"encoding":{"y2":{"field":"upper"}}},
     {"mark":{"type":"tick","color":"#111","thickness":1.5,"size":7,"opacity":1},"encoding":{"y":{"field":"upper","type":"quantitative"}}},
     {"data":{"name":"sb"},"transform":[{"filter":"datum.p=='BV/TV'"}],"mark":{"type":"text","fontSize":10,"baseline":"alphabetic","color":"#111"},"encoding":{"y":{"field":"y","type":"quantitative"},"text":{"field":"sig"}}}
    ]},
   {"width":77,"height":171,"title":"Tb. Th","data":{"name":"b"},"transform":[{"filter":"datum.p=='Tb.Th'"}],
    "encoding":{"x":{"field":"geno","type":"nominal","title":null,"scale":{"domain":["fl","ob"],"paddingInner":0,"paddingOuter":0},"axis":{"labels":false,"ticks":true,"tickColor":"#111","tickSize":5,"tickWidth":1.5,"bandPosition":1}},
     "y":{"field":"mean","type":"quantitative","scale":{"domain":[0,0.07],"nice":false},"axis":{"title":"mm","values":[0,0.01,0.02,0.03,0.04,0.05,0.06,0.07],"format":".2f","titlePadding":2}}},
    "layer":[
     {"transform":[{"filter":"datum.geno=='fl'"}],"mark":{"type":"bar","style":"gridV","width":{"band":0.53}}},
     {"transform":[{"filter":"datum.geno=='fl'"}],"mark":{"type":"bar","style":"gridHb","stroke":"#111","width":{"band":0.53}}},
     {"transform":[{"filter":"datum.geno=='ob'"}],"mark":{"type":"bar","fill":"white","stroke":"#111","width":{"band":0.53}}},
     {"mark":{"type":"rule","color":"#111","strokeWidth":1.5},"encoding":{"y2":{"field":"upper"}}},
     {"mark":{"type":"tick","color":"#111","thickness":1.5,"size":7,"opacity":1},"encoding":{"y":{"field":"upper","type":"quantitative"}}}
    ]},
   {"width":76,"height":171,"title":"Tb. Sp","data":{"name":"b"},"transform":[{"filter":"datum.p=='Tb.Sp'"}],
    "encoding":{"x":{"field":"geno","type":"nominal","title":null,"scale":{"domain":["fl","ob"],"paddingInner":0,"paddingOuter":0},"axis":{"labels":false,"ticks":true,"tickColor":"#111","tickSize":5,"tickWidth":1.5,"bandPosition":1}},
     "y":{"field":"mean","type":"quantitative","scale":{"domain":[0,0.25],"nice":false},"axis":{"title":"mm","values":[0,0.05,0.1,0.15,0.2,0.25],"format":".2f","titlePadding":2}}},
    "layer":[
     {"transform":[{"filter":"datum.geno=='fl'"}],"mark":{"type":"bar","style":"gridV","width":{"band":0.53}}},
     {"transform":[{"filter":"datum.geno=='fl'"}],"mark":{"type":"bar","style":"gridHa","stroke":"#111","width":{"band":0.53}}},
     {"transform":[{"filter":"datum.geno=='ob'"}],"mark":{"type":"bar","fill":"white","stroke":"#111","width":{"band":0.53}}},
     {"mark":{"type":"rule","color":"#111","strokeWidth":1.5},"encoding":{"y2":{"field":"upper"}}},
     {"mark":{"type":"tick","color":"#111","thickness":1.5,"size":7,"opacity":1},"encoding":{"y":{"field":"upper","type":"quantitative"}}},
     {"data":{"name":"sb"},"transform":[{"filter":"datum.p=='Tb.Sp'"}],"mark":{"type":"text","fontSize":10,"baseline":"alphabetic","color":"#111"},"encoding":{"y":{"field":"y","type":"quantitative"},"text":{"field":"sig"}}}
    ]},
   {"width":74,"height":171,"title":"Tb. N","data":{"name":"b"},"transform":[{"filter":"datum.p=='Tb.N'"}],
    "encoding":{"x":{"field":"geno","type":"nominal","title":null,"scale":{"domain":["fl","ob"],"paddingInner":0,"paddingOuter":0},"axis":{"labels":false,"ticks":true,"tickColor":"#111","tickSize":5,"tickWidth":1.5,"bandPosition":1}},
     "y":{"field":"mean","type":"quantitative","scale":{"domain":[0,6],"nice":false},"axis":{"title":"1/mm","values":[0,1,2,3,4,5,6],"format":".2f","titlePadding":2}}},
    "layer":[
     {"transform":[{"filter":"datum.geno=='fl'"}],"mark":{"type":"bar","style":"gridV","width":{"band":0.53}}},
     {"transform":[{"filter":"datum.geno=='fl'"}],"mark":{"type":"bar","style":"gridHb","stroke":"#111","width":{"band":0.53}}},
     {"transform":[{"filter":"datum.geno=='ob'"}],"mark":{"type":"bar","fill":"white","stroke":"#111","width":{"band":0.53}}},
     {"mark":{"type":"rule","color":"#111","strokeWidth":1.5},"encoding":{"y2":{"field":"upper"}}},
     {"mark":{"type":"tick","color":"#111","thickness":1.5,"size":7,"opacity":1},"encoding":{"y":{"field":"upper","type":"quantitative"}}},
     {"data":{"name":"sb"},"transform":[{"filter":"datum.p=='Tb.N'"}],"mark":{"type":"text","fontSize":10,"baseline":"alphabetic","color":"#111"},"encoding":{"y":{"field":"y","type":"quantitative"},"text":{"field":"sig"}}}
    ]}
  ]
 },
 {
  "width":690,"height":26,
  "data":{"values":[{"it":"g","lab":"AR","sup":"fl/fl"},{"it":"w","lab":"AR","sup":"ΔOB/ΔOB"}]},
  "encoding":{"x":{"field":"it","type":"nominal","scale":{"type":"point","domain":["g","w"],"range":[259.5,332],"padding":0},"axis":null}},
  "layer":[
   {"transform":[{"filter":"datum.it=='g'"}],"mark":{"type":"square","size":289,"style":"gridV","opacity":1}},
   {"transform":[{"filter":"datum.it=='g'"}],"mark":{"type":"square","size":289,"style":"gridHsq","stroke":"#111","strokeWidth":1,"opacity":1}},
   {"transform":[{"filter":"datum.it=='w'"}],"mark":{"type":"square","size":289,"fill":"white","stroke":"#111","strokeWidth":1,"opacity":1}},
   {"mark":{"type":"text","align":"left","dx":18,"fontSize":12,"fontWeight":"bold","color":"#111"},"encoding":{"text":{"field":"lab"}}},
   {"mark":{"type":"text","align":"left","dx":36,"dy":-5,"fontSize":8,"fontWeight":"bold","color":"#111"},"encoding":{"text":{"field":"sup"}}}
  ]
 }
]
}
